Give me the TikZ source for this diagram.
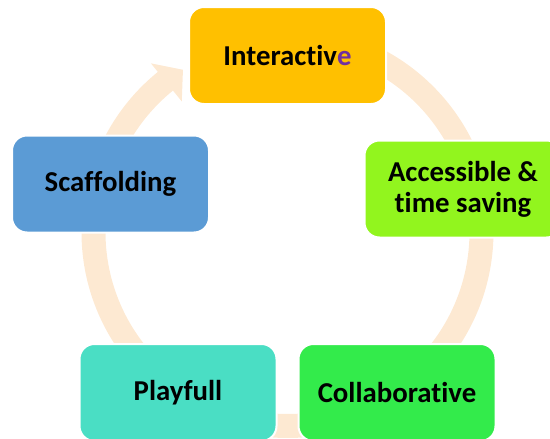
\documentclass[tikz,border=0pt]{standalone}
\usepackage{fontspec}
\setmainfont[Ligatures=NoCommon]{Carlito}
\usepackage{tikz}
\usetikzlibrary{positioning}
\definecolor{col1}{RGB}{255,192,0}
\definecolor{col2}{RGB}{146,245,30}
\definecolor{col3}{RGB}{51,235,75}
\definecolor{col4}{RGB}{74,222,196}
\definecolor{col5}{RGB}{91,155,213}
\definecolor{col6}{RGB}{253,233,210}
\definecolor{col7}{RGB}{112,48,160}
\tikzstyle{stage}=[draw=white, line width=2pt, rounded corners=15pt, minimum width=197pt, minimum height=97pt, align=center]
\tikzstyle{inter}=[stage, fill=col1]
\tikzstyle{access}=[stage, fill=col2]
\tikzstyle{collab}=[stage, fill=col3]
\tikzstyle{play}=[stage, fill=col4]
\tikzstyle{scaf}=[stage, fill=col5]
\tikzstyle{ring}=[fill=col6]
\begin{document}
\begin{tikzpicture}[x=1pt,y=1pt,font=\bfseries\fontsize{28.8}{31}\selectfont]
		    \useasboundingbox (0,0) rectangle (550,-439);
		    \clip (0,0) rectangle (550,-439);
		    \coordinate (o) at (287.5,-232);
		    % cycle band with its arrow
		    \fill[ring, shift={(o)}] (85:206) arc[start angle=85, end angle=-231, radius=206]
		      -- (-231:217) -- (-237.2:193) -- (-231:168) -- (-231:182)
		      arc[start angle=-231, end angle=85, radius=182] -- cycle;
		    \node [inter] (a) at (287.5,-55.5) {Interactiv\textcolor{col7}{e}};
		    \node [access] (b) at (463,-189) {Accessible \&\\time saving};
		    \node [collab] (c) at (397,-392.5) {Collaborative};
		    \node [play] (d) at (178,-392.5) {Playfull};
		    \node [scaf] (e) at (110.5,-184) {Scaffolding};
		\end{tikzpicture}
\end{document}
